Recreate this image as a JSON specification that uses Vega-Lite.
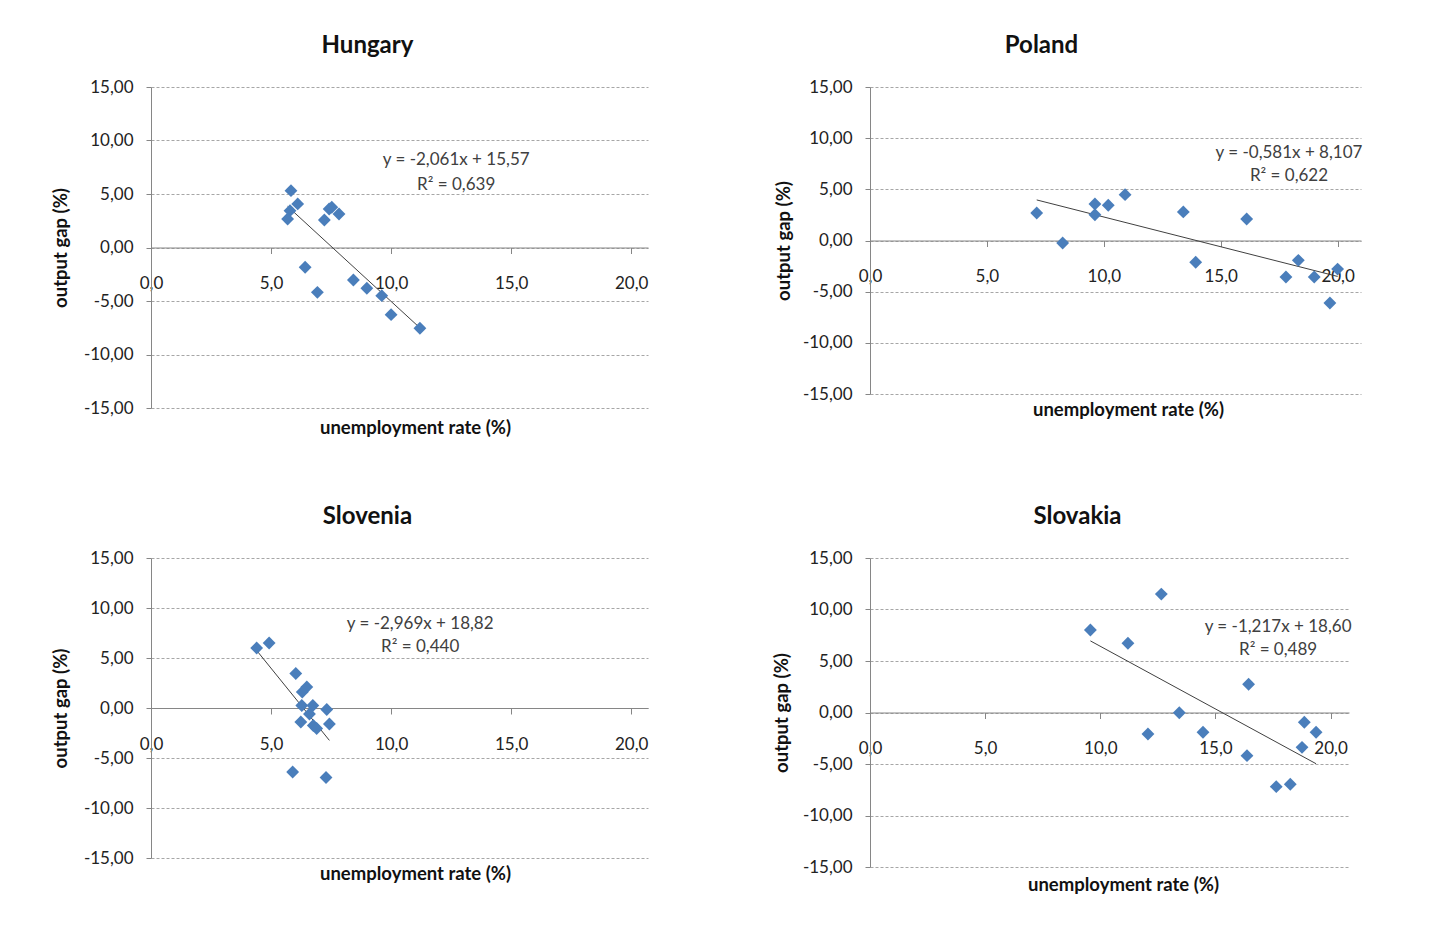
{
  "$schema": "https://vega.github.io/schema/vega-lite/v6.json",
  "background": "white",
  "padding": {"left": 51, "top": 34, "right": 5, "bottom": 5},
  "config": {
    "font": "Lato",
    "view": {"stroke": null},
    "axis": {"labelFont": "Lato", "labelFontSize": 17, "labelColor": "#222222", "titleFont": "Lato", "titleFontSize": 18.5, "titleFontWeight": "bold", "titleColor": "#111111", "domainColor": "#868686", "tickColor": "#868686", "labelOverlap": false, "labelBound": false, "labelFlush": false},
    "title": {"font": "Lato", "fontSize": 24, "fontWeight": "bold", "color": "#111111", "anchor": "middle", "offset": 20}
  },
  "datasets": {
    "points": [
      {"country": "Hungary", "unemployment": 5.83, "gap": 5.31},
      {"country": "Hungary", "unemployment": 6.11, "gap": 4.07},
      {"country": "Hungary", "unemployment": 5.79, "gap": 3.44},
      {"country": "Hungary", "unemployment": 5.69, "gap": 2.66},
      {"country": "Hungary", "unemployment": 7.22, "gap": 2.57},
      {"country": "Hungary", "unemployment": 7.42, "gap": 3.6},
      {"country": "Hungary", "unemployment": 7.53, "gap": 3.76},
      {"country": "Hungary", "unemployment": 7.83, "gap": 3.13},
      {"country": "Hungary", "unemployment": 6.42, "gap": -1.85},
      {"country": "Hungary", "unemployment": 6.93, "gap": -4.19},
      {"country": "Hungary", "unemployment": 8.43, "gap": -3.04},
      {"country": "Hungary", "unemployment": 8.99, "gap": -3.81},
      {"country": "Hungary", "unemployment": 9.61, "gap": -4.5},
      {"country": "Hungary", "unemployment": 10.0, "gap": -6.28},
      {"country": "Hungary", "unemployment": 11.2, "gap": -7.55},
      {"country": "Poland", "unemployment": 7.13, "gap": 2.69},
      {"country": "Poland", "unemployment": 8.24, "gap": -0.24},
      {"country": "Poland", "unemployment": 9.62, "gap": 3.57},
      {"country": "Poland", "unemployment": 9.62, "gap": 2.52},
      {"country": "Poland", "unemployment": 10.19, "gap": 3.44},
      {"country": "Poland", "unemployment": 10.91, "gap": 4.48},
      {"country": "Poland", "unemployment": 13.4, "gap": 2.79},
      {"country": "Poland", "unemployment": 13.93, "gap": -2.13},
      {"country": "Poland", "unemployment": 16.11, "gap": 2.1},
      {"country": "Poland", "unemployment": 17.79, "gap": -3.57},
      {"country": "Poland", "unemployment": 18.32, "gap": -1.94},
      {"country": "Poland", "unemployment": 19.0, "gap": -3.57},
      {"country": "Poland", "unemployment": 19.67, "gap": -6.11},
      {"country": "Poland", "unemployment": 20.0, "gap": -2.79},
      {"country": "Slovenia", "unemployment": 4.4, "gap": 6.0},
      {"country": "Slovenia", "unemployment": 4.92, "gap": 6.5},
      {"country": "Slovenia", "unemployment": 6.03, "gap": 3.45},
      {"country": "Slovenia", "unemployment": 6.49, "gap": 2.1},
      {"country": "Slovenia", "unemployment": 6.3, "gap": 1.6},
      {"country": "Slovenia", "unemployment": 6.28, "gap": 0.25},
      {"country": "Slovenia", "unemployment": 6.74, "gap": 0.25},
      {"country": "Slovenia", "unemployment": 7.32, "gap": -0.15},
      {"country": "Slovenia", "unemployment": 6.6, "gap": -0.6},
      {"country": "Slovenia", "unemployment": 6.24, "gap": -1.4},
      {"country": "Slovenia", "unemployment": 6.76, "gap": -1.75},
      {"country": "Slovenia", "unemployment": 6.9, "gap": -2.05},
      {"country": "Slovenia", "unemployment": 7.43, "gap": -1.6},
      {"country": "Slovenia", "unemployment": 5.9, "gap": -6.4},
      {"country": "Slovenia", "unemployment": 7.29, "gap": -6.95},
      {"country": "Slovakia", "unemployment": 12.65, "gap": 11.5},
      {"country": "Slovakia", "unemployment": 9.57, "gap": 8.01},
      {"country": "Slovakia", "unemployment": 11.2, "gap": 6.72},
      {"country": "Slovakia", "unemployment": 16.44, "gap": 2.74},
      {"country": "Slovakia", "unemployment": 13.43, "gap": -0.02},
      {"country": "Slovakia", "unemployment": 12.07, "gap": -2.09},
      {"country": "Slovakia", "unemployment": 14.46, "gap": -1.92},
      {"country": "Slovakia", "unemployment": 16.37, "gap": -4.19},
      {"country": "Slovakia", "unemployment": 17.64, "gap": -7.2},
      {"country": "Slovakia", "unemployment": 18.25, "gap": -6.97},
      {"country": "Slovakia", "unemployment": 18.86, "gap": -0.95},
      {"country": "Slovakia", "unemployment": 19.37, "gap": -1.92},
      {"country": "Slovakia", "unemployment": 18.76, "gap": -3.38}
    ],
    "trend": [
      {"country": "Hungary", "unemployment": 5.69, "gap": 3.843},
      {"country": "Hungary", "unemployment": 11.2, "gap": -7.513},
      {"country": "Poland", "unemployment": 7.13, "gap": 3.964},
      {"country": "Poland", "unemployment": 20.0, "gap": -3.513},
      {"country": "Slovenia", "unemployment": 4.4, "gap": 5.756},
      {"country": "Slovenia", "unemployment": 7.43, "gap": -3.24},
      {"country": "Slovakia", "unemployment": 9.57, "gap": 6.953},
      {"country": "Slovakia", "unemployment": 19.37, "gap": -4.973}
    ],
    "labels": [
      {"country": "Hungary", "unemployment": 12.71, "gap": 8.18, "label": "y = -2,061x + 15,57"},
      {"country": "Hungary", "unemployment": 12.71, "gap": 5.84, "label": "R² = 0,639"},
      {"country": "Poland", "unemployment": 17.92, "gap": 8.55, "label": "y = -0,581x + 8,107"},
      {"country": "Poland", "unemployment": 17.92, "gap": 6.3, "label": "R² = 0,622"},
      {"country": "Slovenia", "unemployment": 11.21, "gap": 8.4, "label": "y = -2,969x + 18,82"},
      {"country": "Slovenia", "unemployment": 11.21, "gap": 6.1, "label": "R² = 0,440"},
      {"country": "Slovakia", "unemployment": 17.72, "gap": 8.3, "label": "y = -1,217x + 18,60"},
      {"country": "Slovakia", "unemployment": 17.72, "gap": 6.07, "label": "R² = 0,489"}
    ]
  },
  "columns": 2,
  "bounds": "flush",
  "spacing": {"row": 150, "column": 222},
  "concat": [
    {
      "width": 497, "height": 321,
      "title": {"text": "Hungary", "dx": -32},
      "encoding": {
        "x": {"field": "unemployment", "type": "quantitative", "scale": {"domain": [0, 20.7], "nice": false, "zero": false},
          "axis": {"values": [0, 5, 10, 15, 20], "labelExpr": "replace(replace(format(datum.value,'.1f'),'.',','),'\u2212','-')", "offset": -160.5, "tickSize": 6, "labelPadding": 22, "grid": false, "title": "unemployment rate (%)", "titleX": 264, "titleY": 171, "titleBaseline": "top"}},
        "y": {"field": "gap", "type": "quantitative", "scale": {"domain": [-15, 15], "nice": false, "zero": false},
          "axis": {"values": [-15, -10, -5, 0, 5, 10, 15], "labelExpr": "replace(replace(format(datum.value,'.2f'),'.',','),'\u2212','-')", "grid": true, "gridDash": [3, 2], "gridColor": "#a6a6a6", "tickSize": 5, "labelPadding": 13, "title": "output gap (%)", "titleX": -91, "titleY": 160.5, "titleBaseline": "middle", "titleAngle": 270}}
      },
      "layer": [
        {"data": {"name": "trend"}, "transform": [{"filter": "datum.country === 'Hungary'"}], "mark": {"type": "line", "color": "#404040", "strokeWidth": 1}},
        {"data": {"name": "points"}, "transform": [{"filter": "datum.country === 'Hungary'"}], "mark": {"type": "point", "shape": "diamond", "filled": true, "size": 165, "color": "#4a7ebb", "opacity": 1}},
        {"data": {"name": "labels"}, "transform": [{"filter": "datum.country === 'Hungary'"}], "mark": {"type": "text", "font": "Lato", "fontSize": 17, "color": "#404040", "align": "center", "baseline": "middle"}, "encoding": {"text": {"field": "label"}}}
      ]
    },
    {
      "width": 491, "height": 307,
      "title": {"text": "Poland", "dx": -74},
      "encoding": {
        "x": {"field": "unemployment", "type": "quantitative", "scale": {"domain": [0, 21], "nice": false, "zero": false},
          "axis": {"values": [0, 5, 10, 15, 20], "labelExpr": "replace(replace(format(datum.value,'.1f'),'.',','),'\u2212','-')", "offset": -153.5, "tickSize": 6, "labelPadding": 22, "grid": false, "title": "unemployment rate (%)", "titleX": 258, "titleY": 160, "titleBaseline": "top"}},
        "y": {"field": "gap", "type": "quantitative", "scale": {"domain": [-15, 15], "nice": false, "zero": false},
          "axis": {"values": [-15, -10, -5, 0, 5, 10, 15], "labelExpr": "replace(replace(format(datum.value,'.2f'),'.',','),'\u2212','-')", "grid": true, "gridDash": [3, 2], "gridColor": "#a6a6a6", "tickSize": 5, "labelPadding": 13, "title": "output gap (%)", "titleX": -87, "titleY": 153.5, "titleBaseline": "middle", "titleAngle": 270}}
      },
      "layer": [
        {"data": {"name": "trend"}, "transform": [{"filter": "datum.country === 'Poland'"}], "mark": {"type": "line", "color": "#404040", "strokeWidth": 1}},
        {"data": {"name": "points"}, "transform": [{"filter": "datum.country === 'Poland'"}], "mark": {"type": "point", "shape": "diamond", "filled": true, "size": 165, "color": "#4a7ebb", "opacity": 1}},
        {"data": {"name": "labels"}, "transform": [{"filter": "datum.country === 'Poland'"}], "mark": {"type": "text", "font": "Lato", "fontSize": 17, "color": "#404040", "align": "center", "baseline": "middle"}, "encoding": {"text": {"field": "label"}}}
      ]
    },
    {
      "width": 497, "height": 300,
      "title": {"text": "Slovenia", "dx": -32},
      "encoding": {
        "x": {"field": "unemployment", "type": "quantitative", "scale": {"domain": [0, 20.7], "nice": false, "zero": false},
          "axis": {"values": [0, 5, 10, 15, 20], "labelExpr": "replace(replace(format(datum.value,'.1f'),'.',','),'\u2212','-')", "offset": -150, "tickSize": 6, "labelPadding": 22, "grid": false, "title": "unemployment rate (%)", "titleX": 264, "titleY": 156, "titleBaseline": "top"}},
        "y": {"field": "gap", "type": "quantitative", "scale": {"domain": [-15, 15], "nice": false, "zero": false},
          "axis": {"values": [-15, -10, -5, 0, 5, 10, 15], "labelExpr": "replace(replace(format(datum.value,'.2f'),'.',','),'\u2212','-')", "grid": true, "gridDash": [3, 2], "gridColor": "#a6a6a6", "tickSize": 5, "labelPadding": 13, "title": "output gap (%)", "titleX": -91, "titleY": 150, "titleBaseline": "middle", "titleAngle": 270}}
      },
      "layer": [
        {"data": {"name": "trend"}, "transform": [{"filter": "datum.country === 'Slovenia'"}], "mark": {"type": "line", "color": "#404040", "strokeWidth": 1}},
        {"data": {"name": "points"}, "transform": [{"filter": "datum.country === 'Slovenia'"}], "mark": {"type": "point", "shape": "diamond", "filled": true, "size": 165, "color": "#4a7ebb", "opacity": 1}},
        {"data": {"name": "labels"}, "transform": [{"filter": "datum.country === 'Slovenia'"}], "mark": {"type": "text", "font": "Lato", "fontSize": 17, "color": "#404040", "align": "center", "baseline": "middle"}, "encoding": {"text": {"field": "label"}}}
      ]
    },
    {
      "width": 479, "height": 309,
      "title": {"text": "Slovakia", "dx": -32},
      "encoding": {
        "x": {"field": "unemployment", "type": "quantitative", "scale": {"domain": [0, 20.8], "nice": false, "zero": false},
          "axis": {"values": [0, 5, 10, 15, 20], "labelExpr": "replace(replace(format(datum.value,'.1f'),'.',','),'\u2212','-')", "offset": -154.5, "tickSize": 6, "labelPadding": 22, "grid": false, "title": "unemployment rate (%)", "titleX": 253, "titleY": 163, "titleBaseline": "top"}},
        "y": {"field": "gap", "type": "quantitative", "scale": {"domain": [-15, 15], "nice": false, "zero": false},
          "axis": {"values": [-15, -10, -5, 0, 5, 10, 15], "labelExpr": "replace(replace(format(datum.value,'.2f'),'.',','),'\u2212','-')", "grid": true, "gridDash": [3, 2], "gridColor": "#a6a6a6", "tickSize": 5, "labelPadding": 13, "title": "output gap (%)", "titleX": -89, "titleY": 154.5, "titleBaseline": "middle", "titleAngle": 270}}
      },
      "layer": [
        {"data": {"name": "trend"}, "transform": [{"filter": "datum.country === 'Slovakia'"}], "mark": {"type": "line", "color": "#404040", "strokeWidth": 1}},
        {"data": {"name": "points"}, "transform": [{"filter": "datum.country === 'Slovakia'"}], "mark": {"type": "point", "shape": "diamond", "filled": true, "size": 165, "color": "#4a7ebb", "opacity": 1}},
        {"data": {"name": "labels"}, "transform": [{"filter": "datum.country === 'Slovakia'"}], "mark": {"type": "text", "font": "Lato", "fontSize": 17, "color": "#404040", "align": "center", "baseline": "middle"}, "encoding": {"text": {"field": "label"}}}
      ]
    }
  ]
}
